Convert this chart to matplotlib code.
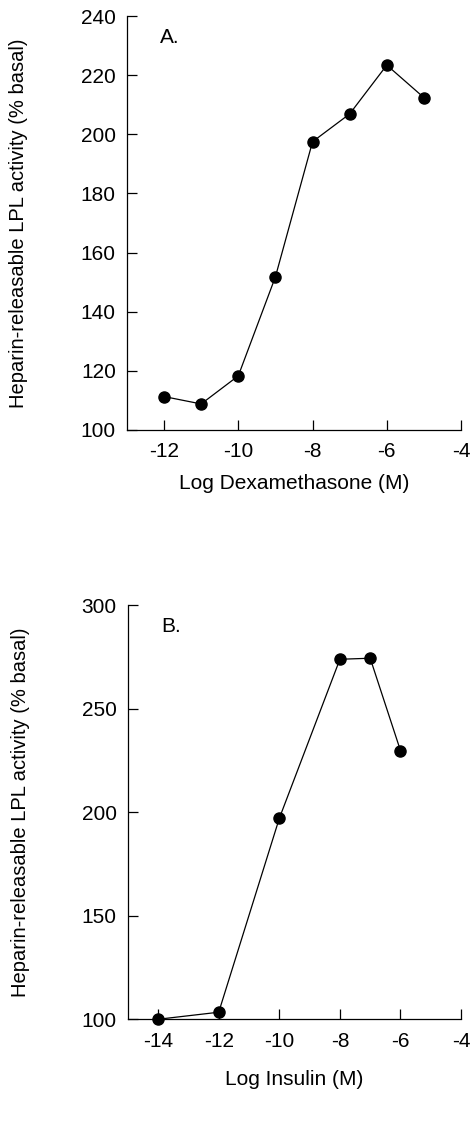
import matplotlib
matplotlib.use("Agg")
import matplotlib.pyplot as plt

plt.rcParams['font.family'] = ['Liberation Sans', 'DejaVu Sans']
plt.rcParams['axes.unicode_minus'] = False

# Panel A data
dex_x = [-12, -11, -10, -9, -8, -7, -6, -5]
dex_y = [111.3, 108.8, 118.3, 151.8, 197.5, 206.9, 223.4, 212.4]
dex_xticks = [-12, -10, -8, -6, -4]
dex_yticks = [100, 120, 140, 160, 180, 200, 220, 240]

# Panel B data
ins_x = [-14, -12, -10, -8, -7, -6]
ins_y = [100.0, 103.4, 197.0, 273.8, 274.3, 229.7]
ins_xticks = [-14, -12, -10, -8, -6, -4]
ins_yticks = [100, 150, 200, 250, 300]

ylabel = "Heparin-releasable LPL activity (% basal)"

fig = plt.figure(figsize=(4.7, 11.3), dpi=100)
axA = fig.add_axes([0.270, 0.6195, 0.711, 0.3663])
axB = fig.add_axes([0.272, 0.098, 0.709, 0.3666])

def style(ax, xs, ys, xt, yt, xlim, ylim, xlabel, tag, xlpad):
    ax.plot(xs, ys, color='black', lw=0.9, marker='o', markersize=8,
            markerfacecolor='black', markeredgecolor='black', clip_on=False, zorder=3)
    ax.set_xlim(*xlim)
    ax.set_ylim(*ylim)
    ax.set_xticks(xt)
    ax.set_xticklabels([str(v) for v in xt])
    ax.set_yticks(yt)
    ax.set_yticklabels([str(v) for v in yt])
    for s in ['top', 'right']:
        ax.spines[s].set_visible(False)
    for s in ['left', 'bottom']:
        ax.spines[s].set_linewidth(0.9)
    ax.tick_params(axis='both', direction='in', length=7, width=0.9,
                   labelsize=15, colors='black')
    ax.tick_params(axis='y', pad=8)
    ax.tick_params(axis='x', pad=9)
    ax.set_xlabel(xlabel, fontsize=15, labelpad=xlpad)
    ax.set_ylabel(ylabel, fontsize=14.5)
    ax.yaxis.set_label_coords(-0.295, 0.5)
    ax.text(33 / 333, 1 - 12 / 414, tag, transform=ax.transAxes, fontsize=15,
            ha='left', va='top')

style(axA, dex_x, dex_y, dex_xticks, dex_yticks, (-13, -4), (100, 240),
      "Log Dexamethasone (M)", "A.", 9)
style(axB, ins_x, ins_y, ins_xticks, ins_yticks, (-15, -4), (100, 300),
      "Log Insulin (M)", "B.", 14)

fig.savefig("out.png", dpi=100)
